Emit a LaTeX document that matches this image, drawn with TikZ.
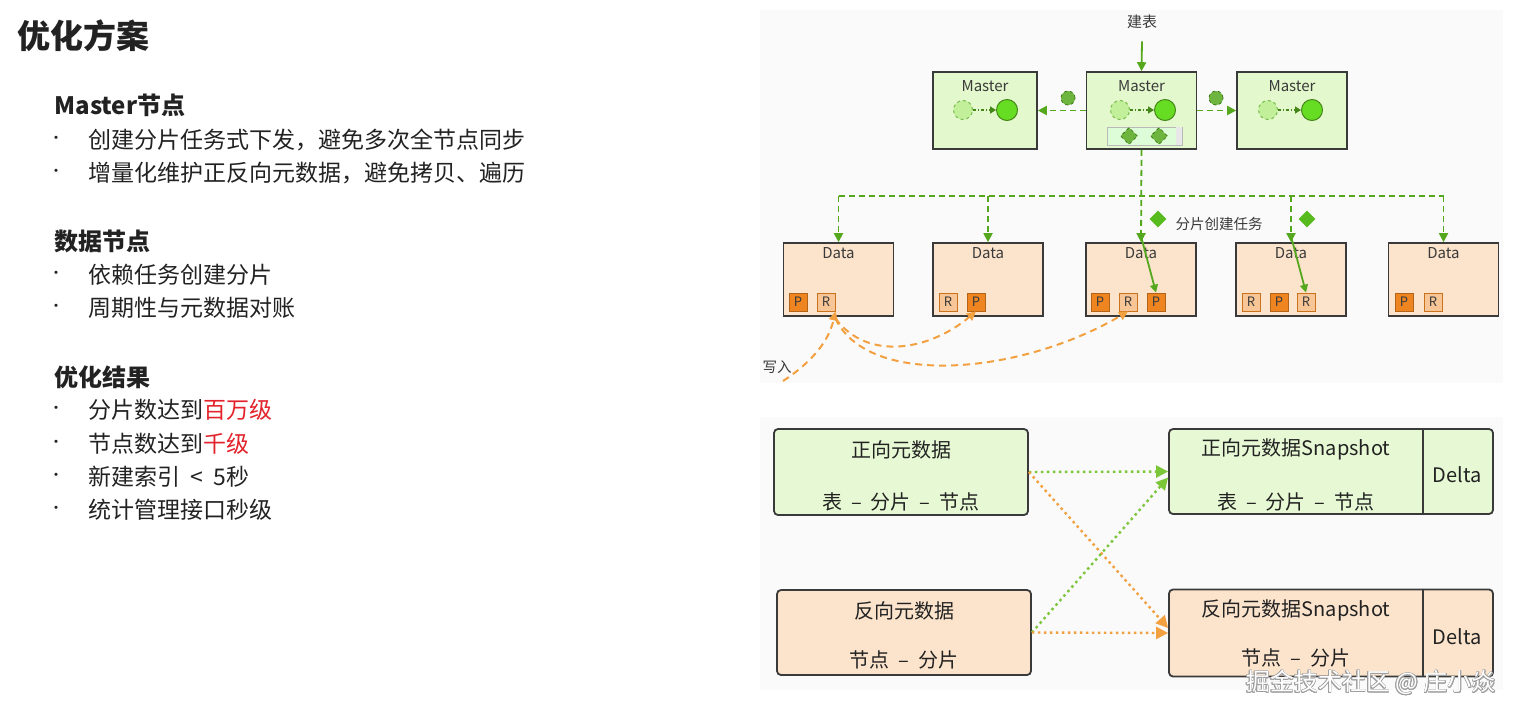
\documentclass[tikz,border=0pt]{standalone}
\usepackage{fontspec}
\setmainfont{Noto Sans CJK SC}
\usepackage[copies]{contour}
\usetikzlibrary{arrows.meta, positioning, shapes.geometric}
\definecolor{mfill}{HTML}{E3F8CC}
\definecolor{dfill}{HTML}{FCE4CC}
\definecolor{pfill}{HTML}{EE8520}
\definecolor{rfill}{HTML}{F7C596}
\definecolor{gline}{HTML}{55A81E}
\definecolor{gdotc}{HTML}{7CC63A}
\definecolor{oline}{HTML}{F2A040}
\definecolor{bord}{HTML}{3A3A3A}
\definecolor{ball}{HTML}{66DC22}
\definecolor{ghost}{HTML}{C2F09A}
\definecolor{hired}{HTML}{E2232B}
\definecolor{panel}{HTML}{FAFAFA}
\definecolor{txt}{HTML}{222222}
\newcommand{\fs}[1]{\fontsize{#1}{#1}\selectfont}
\newcommand{\sep}{\hspace{0.45em}–\hspace{0.45em}}
\contourlength{0.7pt}

\begin{document}
\begin{tikzpicture}[x=1pt, y=-1pt,
    head/.style={anchor=west, text=txt, font=\fs{24}\bfseries},
    item/.style={anchor=west, text=txt, font=\fs{23}},
    bulletmark/.style={text=txt, font=\fs{15}},
    lbl/.style={text=bord, font=\fs{15}},
    mbox/.style={draw=bord, line width=1.6pt, fill=mfill, minimum height=77pt, inner sep=0pt},
    dbox/.style={draw=bord, line width=1.6pt, fill=dfill, minimum width=110pt, minimum height=73pt, inner sep=0pt},
    pbox/.style={draw=pfill!75!black, line width=0.8pt, fill=pfill, minimum size=18pt, inner sep=0pt, font=\fs{13}, text=bord},
    rbox/.style={draw=pfill!85!black, line width=0.8pt, fill=rfill, minimum size=18pt, inner sep=0pt, font=\fs{13}, text=bord},
    ghostball/.style={circle, draw=gline!80, dashed, line width=1pt, fill=ghost, minimum size=19pt, inner sep=0pt},
    solidball/.style={circle, draw=gline!80!black, line width=1pt, fill=ball, minimum size=21pt, inner sep=0pt},
    taskd/.style={diamond, fill=gline!85, draw=gline!70!black, dashed, line width=0.8pt, minimum size=17pt, inner sep=0pt},
    taskc/.style={circle, fill=gline!85, draw=gline!70!black, dashed, line width=0.8pt, minimum size=14pt, inner sep=0pt},
    gdash/.style={draw=gline, line width=1.8pt, dash pattern=on 6pt off 4pt},
    garr/.style={draw=gline, line width=1.8pt},
    odash/.style={draw=oline, line width=2pt, dash pattern=on 7pt off 5pt},
    gdot/.style={draw=gdotc, line width=2.4pt, dash pattern=on 2.5pt off 3.5pt, -{Triangle[length=12pt,width=12pt]}},
    odot/.style={draw=oline, line width=2.4pt, dash pattern=on 2.5pt off 3.5pt, -{Triangle[length=12pt,width=12pt]}},
    fbox/.style={draw=bord, line width=1.8pt, rounded corners=4pt, inner sep=0pt},
    big/.style={text=txt, font=\fs{20}}
]
    \useasboundingbox (0,0) rectangle (1522,716);

    % left column: text
    \node[anchor=west, text=txt, font=\fs{33}\bfseries] (title) at (14,36) {优化方案};
    \node[head] (hmaster) at (51,105) {Master节点};
    \node[bulletmark] (b1) at (56,140) {•};
    \node[item] (t1) at (85,140) {创建分片任务式下发，避免多次全节点同步};
    \node[bulletmark] (b2) at (56,173) {•};
    \node[item] (t2) at (85,173) {增量化维护正反向元数据，避免拷贝、遍历};
    \node[head] (hdata) at (51,241) {数据节点};
    \node[bulletmark] (b3) at (56,275) {•};
    \node[item] (t3) at (85,275) {依赖任务创建分片};
    \node[bulletmark] (b4) at (56,308) {•};
    \node[item] (t4) at (85,308) {周期性与元数据对账};
    \node[head] (hres) at (51,377) {优化结果};
    \node[bulletmark] (b5) at (56,410) {•};
    \node[item] (t5) at (85,410) {分片数达到\textcolor{hired}{百万级}};
    \node[bulletmark] (b6) at (56,444) {•};
    \node[item] (t6) at (85,444) {节点数达到\textcolor{hired}{千级}};
    \node[bulletmark] (b7) at (56,477) {•};
    \node[item] (t7) at (85,477) {新建索引\hspace{0.45em}<\hspace{0.45em}5秒};
    \node[bulletmark] (b8) at (56,510) {•};
    \node[item] (t8) at (85,510) {统计管理接口秒级};

    % top right: master and data nodes
    \fill[panel] (760,10) rectangle (1503,383);
    \node[lbl] (jb) at (1142,22) {建表};
    \node[mbox, minimum width=104pt] (m1) at (985,110.5) {};
    \node[mbox, minimum width=110pt] (m2) at (1141.5,110.5) {};
    \node[mbox, minimum width=110pt] (m3) at (1292,110.5) {};
    \node[lbl] (m1t) at (985,86) {Master};
    \node[lbl] (m2t) at (1141.5,86) {Master};
    \node[lbl] (m3t) at (1292,86) {Master};
    \node[ghostball] (m1a) at (963,110) {};
    \node[solidball] (m1b) at (1007,110) {};
    \node[ghostball] (m2a) at (1120,110) {};
    \node[solidball] (m2b) at (1165,110) {};
    \node[ghostball] (m3a) at (1268,110) {};
    \node[solidball] (m3b) at (1312,110) {};
    \draw[gline!80!black, line width=1.5pt, dash pattern=on 3pt off 2pt on 1pt off 2pt, -{Triangle[length=6pt,width=7pt]}] (m1a) -- (m1b);
    \draw[gline!80!black, line width=1.5pt, dash pattern=on 3pt off 2pt on 1pt off 2pt, -{Triangle[length=6pt,width=7pt]}] (m2a) -- (m2b);
    \draw[gline!80!black, line width=1.5pt, dash pattern=on 3pt off 2pt on 1pt off 2pt, -{Triangle[length=6pt,width=7pt]}] (m3a) -- (m3b);
    \node[draw=gray!55, line width=1pt, fill=mfill!70!green!35, minimum width=75pt, minimum height=18pt, inner sep=0pt] (m2q) at (1144.5,136) {};
    \fill[gray!18] ([xshift=-7pt]m2q.north east) rectangle ([xshift=-0.5pt,yshift=0.5pt]m2q.south east);
    \node[taskd] (k1) at (1129,136) {};
    \node[taskd] (k2) at (1159,136) {};
    \node[taskc] (k3) at (1068,98) {};
    \node[taskc] (k4) at (1216,98) {};

    \draw[garr, -{Triangle[length=9pt,width=9pt]}] ([yshift=-9pt]jb.south) -- (m2.north);
    \draw[gdash, -{Triangle[length=9pt,width=9pt]}] (m2.west) -- (m1.east);
    \draw[gdash, -{Triangle[length=9pt,width=9pt]}] (m2.east) -- (m3.west);

    \node[dbox] (d1) at (838.5,279.5) {};
    \node[dbox] (d2) at (988,279.5) {};
    \node[dbox] (d3) at (1141,279.5) {};
    \node[dbox] (d4) at (1291,279.5) {};
    \node[dbox] (d5) at (1443.5,279.5) {};
    \node[lbl] (d1t) at (838.5,253) {Data};
    \node[lbl] (d2t) at (988,253) {Data};
    \node[lbl] (d3t) at (1141,253) {Data};
    \node[lbl] (d4t) at (1291,253) {Data};
    \node[lbl] (d5t) at (1443.5,253) {Data};
    \node[pbox] (d1p1) at (798,302) {P};
    \node[rbox] (d1r2) at (826,302) {R};
    \node[rbox] (d2r1) at (948,302) {R};
    \node[pbox] (d2p2) at (976,302) {P};
    \node[pbox] (d3p1) at (1100,302) {P};
    \node[rbox] (d3r2) at (1128,302) {R};
    \node[pbox] (d3p3) at (1156,302) {P};
    \node[rbox] (d4r1) at (1251,302) {R};
    \node[pbox] (d4p2) at (1279,302) {P};
    \node[rbox] (d4r3) at (1306,302) {R};
    \node[pbox] (d5p1) at (1404,302) {P};
    \node[rbox] (d5r2) at (1433,302) {R};

    % task dispatch
    \coordinate (bus) at (1141,196);
    \draw[gdash] (d1.north |- bus) -- (d5.north |- bus);
    \draw[gdash, -{Triangle[length=9pt,width=9pt]}] (m2.south) -- (d3.north);
    \draw[gdash, -{Triangle[length=9pt,width=9pt]}] (d1.north |- bus) -- (d1.north);
    \draw[gdash, -{Triangle[length=9pt,width=9pt]}] (d2.north |- bus) -- (d2.north);
    \draw[gdash, -{Triangle[length=9pt,width=9pt]}] (d4.north |- bus) -- (d4.north);
    \draw[gdash, -{Triangle[length=9pt,width=9pt]}] (d5.north |- bus) -- (d5.north);
    \draw[garr, -{Triangle[length=8pt,width=8pt]}] ([yshift=6pt]d3.north) -- (d3p3.north);
    \draw[garr, -{Triangle[length=8pt,width=8pt]}] ([yshift=6pt]d4.north) -- (d4r3.north);
    \node[taskd, draw=none, fill=ball!85!black, solid] (s1d) at (1158,219) {};
    \node[lbl, anchor=west, font=\fs{14.5}] (s1l) at (1172,224) {分片创建任务};
    \node[taskd, draw=none, fill=ball!85!black, solid] (s2d) at (1307,219) {};

    % writes
    \node[lbl, font=\fs{14.5}] (wr) at (777,367) {写入};
    \coordinate (w0) at (783,381);
    \coordinate (hub) at ([yshift=-7pt]d1r2.south east);
    \draw[odash, -{Triangle[length=9pt,width=9pt]}] (w0) .. controls (806,366) and (828,345) .. (d1r2.south east);
    \draw[odash, -{Triangle[length=9pt,width=9pt]}] (hub) .. controls (868,362) and (930,350) .. (d2p2.south);
    \draw[odash, -{Triangle[length=9pt,width=9pt]}] (hub) .. controls (868,388) and (1020,375) .. (d3r2.south);

    % bottom right: metadata
    \fill[panel] (760,417) rectangle (1503,690);
    \node[fbox, fill=mfill!85!white, minimum width=254pt, minimum height=86pt] (f1) at (901,472) {};
    \node[fbox, fill=dfill, minimum width=254pt, minimum height=85pt] (f2) at (904,632.5) {};
    \node[fbox, fill=mfill!85!white, minimum width=324pt, minimum height=85pt] (s1) at (1331,471.5) {};
    \node[fbox, fill=dfill, minimum width=324pt, minimum height=87pt] (s2) at (1331,633) {};
    \draw[draw=bord, line width=1.8pt] ([xshift=92pt]s1.north) -- ([xshift=92pt]s1.south);
    \draw[draw=bord, line width=1.8pt] ([xshift=92pt]s2.north) -- ([xshift=92pt]s2.south);
    \node[big] (f1a) at (901,450) {正向元数据};
    \node[big] (f1b) at (901,502) {表\sep 分片\sep 节点};
    \node[big] (f2a) at (904,611) {反向元数据};
    \node[big] (f2b) at (904,660) {节点\sep 分片};
    \node[big] (s1a) at (1296,449) {正向元数据Snapshot};
    \node[big] (s1b) at (1296,502) {表\sep 分片\sep 节点};
    \node[big] (s1c) at (1457,475) {Delta};
    \node[big] (s2a) at (1296,610) {反向元数据Snapshot};
    \node[big] (s2b) at (1296,658) {节点\sep 分片};
    \node[big] (s2c) at (1457,637) {Delta};

    \draw[gdot] (f1.east) -- (s1.west);
    \draw[odot] (f1.east) -- ([yshift=5pt]s2.west);
    \draw[gdot] (f2.east) -- ([yshift=-6pt]s1.west);
    \draw[odot] (f2.east) -- (s2.west);

    \node[font=\fs{24}, text=white] (wm) at (1371,683) {\contour{gray!75}{掘金技术社区 @ 庄小焱}};
\end{tikzpicture}
\end{document}
